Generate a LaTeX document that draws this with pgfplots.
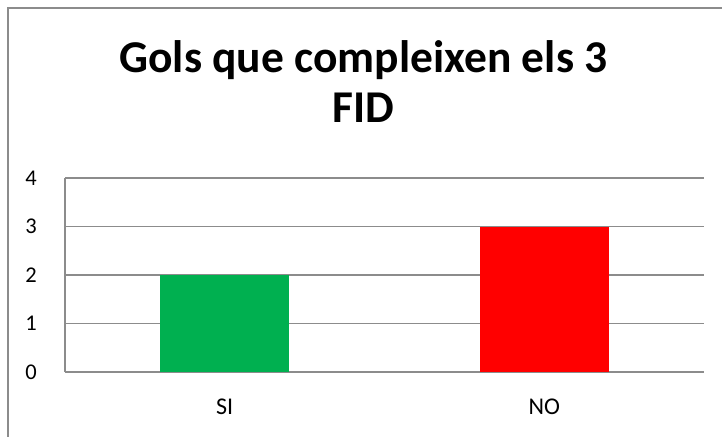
\documentclass[border=0pt]{standalone}
\usepackage{pgfplots}
\pgfplotsset{compat=1.18}
\usepackage{fontspec}
\setmainfont{Carlito}
\definecolor{gridgray}{HTML}{8C8C8C}
\definecolor{xlgreen}{HTML}{00B050}
\definecolor{xlred}{HTML}{FF0000}
\begin{document}
\begin{tikzpicture}
\path[use as bounding box] (-65pt,-65pt) rectangle (657pt,372pt);
\fill[gridgray] (-58pt,-65pt) rectangle (-56pt,365pt);
\fill[gridgray] (-58pt,363pt) rectangle (657pt,365pt);
\begin{axis}[
  at={(0pt,0pt)}, anchor=south west,
  scale only axis, width=639pt, height=194pt,
  xmin=-0.5, xmax=1.5, ymin=0, ymax=4,
  xtick={0,1}, xticklabels={SI,NO},
  ytick={0,1,2,3,4},
  ymajorgrids, major grid style={gridgray, line width=1.2pt},
  axis x line*=bottom, axis y line*=left,
  axis line style={gridgray, line width=1.2pt, -},
  major tick length=0pt,
  /pgf/number format/assume math mode=true,
  yticklabel style={font=\fontsize{22.5}{26}\selectfont, anchor=east, inner sep=0pt, xshift=-28pt},
  xticklabel style={font=\fontsize{24}{28}\selectfont, anchor=base, inner sep=0pt, yshift=-42pt},
  clip=false,
]
\addplot[ybar, bar width=129pt, bar shift=0pt, fill=xlgreen, draw=none] coordinates {(0,2)};
\addplot[ybar, bar width=129pt, bar shift=0pt, fill=xlred, draw=none] coordinates {(1,3)};
\end{axis}
\node[anchor=base, font=\fontsize{45.5}{50}\selectfont\bfseries] at (298.5pt,299pt) {Gols que compleixen els 3};
\node[anchor=base, font=\fontsize{45.5}{50}\selectfont\bfseries] at (298.5pt,249pt) {FID};
\end{tikzpicture}
\end{document}
